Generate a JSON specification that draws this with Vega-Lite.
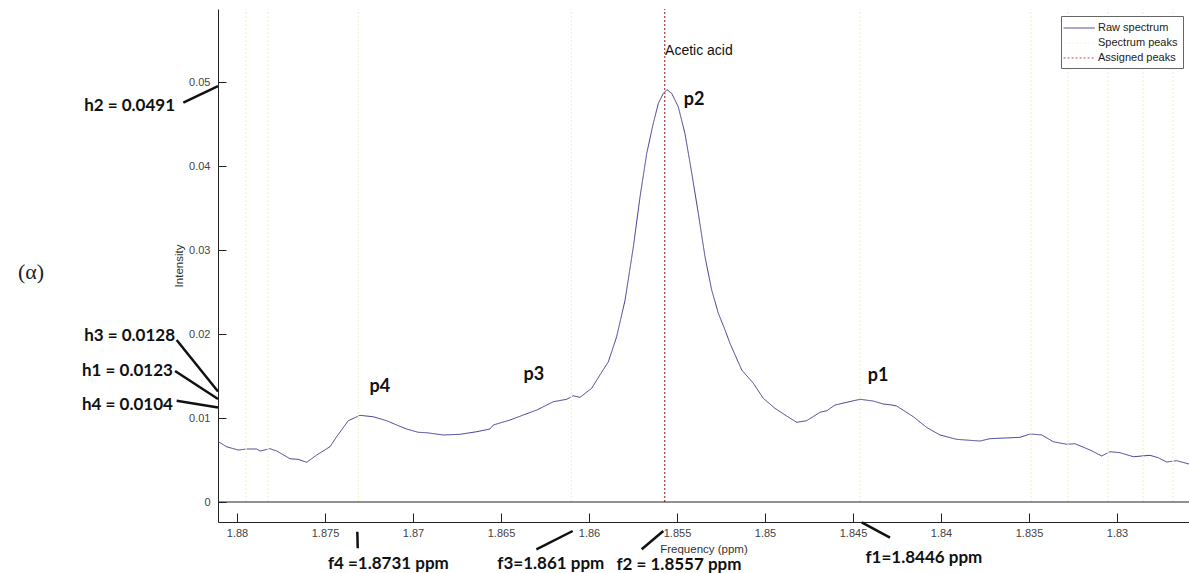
{
  "$schema": "https://vega.github.io/schema/vega-lite/v6.json",
  "autosize": "none",
  "padding": {"left": 218, "top": 9, "right": 0, "bottom": 51},
  "width": 971,
  "height": 513,
  "background": "white",
  "config": {
    "view": {"stroke": null},
    "axis": {"grid": false, "labelFont": "Liberation Sans", "titleFont": "Liberation Sans", "labelFontSize": 11, "titleFontSize": 11.5, "titleFontWeight": "normal", "labelColor": "#444444", "titleColor": "#333333", "domainColor": "#222222", "tickColor": "#222222", "labelFlush": false},
    "legend": {"title": null, "orient": "none", "legendX": 843, "legendY": 7, "symbolType": "M-1.45,0H3.35", "symbolSize": 169, "symbolStrokeWidth": 1, "labelFont": "Liberation Sans", "labelFontSize": 11, "labelColor": "#222222", "fillColor": "white", "strokeColor": "#666666", "padding": 5, "rowPadding": 3, "labelOffset": 18}
  },
  "datasets": {
    "curve": [
      {"ppm": 1.88106, "val": 0.00718, "series": "Raw spectrum"},
      {"ppm": 1.88059, "val": 0.00658, "series": "Raw spectrum"},
      {"ppm": 1.87993, "val": 0.00619, "series": "Raw spectrum"},
      {"ppm": 1.87945, "val": 0.00631, "series": "Raw spectrum"},
      {"ppm": 1.87888, "val": 0.00631, "series": "Raw spectrum"},
      {"ppm": 1.87869, "val": 0.00607, "series": "Raw spectrum"},
      {"ppm": 1.87813, "val": 0.00635, "series": "Raw spectrum"},
      {"ppm": 1.87774, "val": 0.00607, "series": "Raw spectrum"},
      {"ppm": 1.87699, "val": 0.00515, "series": "Raw spectrum"},
      {"ppm": 1.87652, "val": 0.00508, "series": "Raw spectrum"},
      {"ppm": 1.87604, "val": 0.00473, "series": "Raw spectrum"},
      {"ppm": 1.87547, "val": 0.0056, "series": "Raw spectrum"},
      {"ppm": 1.87472, "val": 0.00658, "series": "Raw spectrum"},
      {"ppm": 1.87434, "val": 0.00777, "series": "Raw spectrum"},
      {"ppm": 1.87368, "val": 0.00968, "series": "Raw spectrum"},
      {"ppm": 1.87301, "val": 0.01032, "series": "Raw spectrum"},
      {"ppm": 1.87226, "val": 0.01015, "series": "Raw spectrum"},
      {"ppm": 1.87149, "val": 0.00968, "series": "Raw spectrum"},
      {"ppm": 1.87093, "val": 0.00917, "series": "Raw spectrum"},
      {"ppm": 1.87036, "val": 0.00869, "series": "Raw spectrum"},
      {"ppm": 1.8697, "val": 0.0083, "series": "Raw spectrum"},
      {"ppm": 1.86922, "val": 0.00825, "series": "Raw spectrum"},
      {"ppm": 1.86828, "val": 0.00798, "series": "Raw spectrum"},
      {"ppm": 1.86733, "val": 0.00806, "series": "Raw spectrum"},
      {"ppm": 1.86638, "val": 0.00837, "series": "Raw spectrum"},
      {"ppm": 1.86563, "val": 0.00869, "series": "Raw spectrum"},
      {"ppm": 1.86544, "val": 0.00917, "series": "Raw spectrum"},
      {"ppm": 1.86449, "val": 0.00976, "series": "Raw spectrum"},
      {"ppm": 1.86373, "val": 0.01036, "series": "Raw spectrum"},
      {"ppm": 1.86297, "val": 0.01095, "series": "Raw spectrum"},
      {"ppm": 1.86203, "val": 0.01194, "series": "Raw spectrum"},
      {"ppm": 1.86127, "val": 0.01223, "series": "Raw spectrum"},
      {"ppm": 1.86089, "val": 0.01265, "series": "Raw spectrum"},
      {"ppm": 1.86051, "val": 0.01246, "series": "Raw spectrum"},
      {"ppm": 1.85985, "val": 0.01354, "series": "Raw spectrum"},
      {"ppm": 1.85938, "val": 0.01512, "series": "Raw spectrum"},
      {"ppm": 1.8589, "val": 0.0167, "series": "Raw spectrum"},
      {"ppm": 1.85843, "val": 0.01968, "series": "Raw spectrum"},
      {"ppm": 1.85795, "val": 0.02405, "series": "Raw spectrum"},
      {"ppm": 1.85748, "val": 0.03039, "series": "Raw spectrum"},
      {"ppm": 1.8571, "val": 0.03635, "series": "Raw spectrum"},
      {"ppm": 1.85672, "val": 0.04151, "series": "Raw spectrum"},
      {"ppm": 1.85635, "val": 0.04508, "series": "Raw spectrum"},
      {"ppm": 1.85606, "val": 0.04746, "series": "Raw spectrum"},
      {"ppm": 1.85578, "val": 0.04865, "series": "Raw spectrum"},
      {"ppm": 1.85557, "val": 0.0491, "series": "Raw spectrum"},
      {"ppm": 1.8553, "val": 0.04865, "series": "Raw spectrum"},
      {"ppm": 1.85493, "val": 0.04706, "series": "Raw spectrum"},
      {"ppm": 1.85455, "val": 0.04389, "series": "Raw spectrum"},
      {"ppm": 1.85416, "val": 0.03913, "series": "Raw spectrum"},
      {"ppm": 1.85379, "val": 0.03437, "series": "Raw spectrum"},
      {"ppm": 1.85341, "val": 0.0292, "series": "Raw spectrum"},
      {"ppm": 1.85303, "val": 0.02524, "series": "Raw spectrum"},
      {"ppm": 1.85265, "val": 0.02246, "series": "Raw spectrum"},
      {"ppm": 1.85227, "val": 0.02048, "series": "Raw spectrum"},
      {"ppm": 1.85199, "val": 0.01889, "series": "Raw spectrum"},
      {"ppm": 1.85132, "val": 0.01571, "series": "Raw spectrum"},
      {"ppm": 1.85066, "val": 0.01413, "series": "Raw spectrum"},
      {"ppm": 1.8501, "val": 0.01235, "series": "Raw spectrum"},
      {"ppm": 1.84943, "val": 0.01115, "series": "Raw spectrum"},
      {"ppm": 1.84877, "val": 0.01024, "series": "Raw spectrum"},
      {"ppm": 1.8482, "val": 0.00949, "series": "Raw spectrum"},
      {"ppm": 1.84763, "val": 0.00968, "series": "Raw spectrum"},
      {"ppm": 1.84688, "val": 0.01068, "series": "Raw spectrum"},
      {"ppm": 1.84649, "val": 0.01087, "series": "Raw spectrum"},
      {"ppm": 1.84602, "val": 0.01155, "series": "Raw spectrum"},
      {"ppm": 1.84536, "val": 0.01187, "series": "Raw spectrum"},
      {"ppm": 1.8446, "val": 0.01223, "series": "Raw spectrum"},
      {"ppm": 1.84385, "val": 0.01202, "series": "Raw spectrum"},
      {"ppm": 1.84328, "val": 0.01167, "series": "Raw spectrum"},
      {"ppm": 1.8428, "val": 0.01155, "series": "Raw spectrum"},
      {"ppm": 1.84252, "val": 0.01143, "series": "Raw spectrum"},
      {"ppm": 1.84157, "val": 0.01015, "series": "Raw spectrum"},
      {"ppm": 1.84081, "val": 0.00887, "series": "Raw spectrum"},
      {"ppm": 1.84006, "val": 0.00798, "series": "Raw spectrum"},
      {"ppm": 1.83911, "val": 0.00746, "series": "Raw spectrum"},
      {"ppm": 1.83778, "val": 0.00726, "series": "Raw spectrum"},
      {"ppm": 1.83722, "val": 0.00754, "series": "Raw spectrum"},
      {"ppm": 1.83551, "val": 0.0077, "series": "Raw spectrum"},
      {"ppm": 1.83494, "val": 0.0081, "series": "Raw spectrum"},
      {"ppm": 1.83428, "val": 0.00798, "series": "Raw spectrum"},
      {"ppm": 1.83362, "val": 0.00718, "series": "Raw spectrum"},
      {"ppm": 1.83286, "val": 0.00687, "series": "Raw spectrum"},
      {"ppm": 1.83239, "val": 0.00694, "series": "Raw spectrum"},
      {"ppm": 1.83153, "val": 0.00619, "series": "Raw spectrum"},
      {"ppm": 1.83087, "val": 0.00548, "series": "Raw spectrum"},
      {"ppm": 1.8304, "val": 0.00599, "series": "Raw spectrum"},
      {"ppm": 1.82983, "val": 0.00587, "series": "Raw spectrum"},
      {"ppm": 1.82907, "val": 0.00539, "series": "Raw spectrum"},
      {"ppm": 1.82813, "val": 0.00556, "series": "Raw spectrum"},
      {"ppm": 1.82765, "val": 0.00527, "series": "Raw spectrum"},
      {"ppm": 1.82718, "val": 0.00476, "series": "Raw spectrum"},
      {"ppm": 1.82661, "val": 0.00492, "series": "Raw spectrum"},
      {"ppm": 1.82591, "val": 0.00452, "series": "Raw spectrum"}
    ],
    "peaks": [
      {"ppm": 1.87949, "series": "Spectrum peaks"},
      {"ppm": 1.87824, "series": "Spectrum peaks"},
      {"ppm": 1.8731, "series": "Spectrum peaks"},
      {"ppm": 1.861, "series": "Spectrum peaks"},
      {"ppm": 1.8557, "series": "Spectrum peaks"},
      {"ppm": 1.8446, "series": "Spectrum peaks"},
      {"ppm": 1.83489, "series": "Spectrum peaks"},
      {"ppm": 1.83278, "series": "Spectrum peaks"},
      {"ppm": 1.83051, "series": "Spectrum peaks"},
      {"ppm": 1.82852, "series": "Spectrum peaks"},
      {"ppm": 1.82682, "series": "Spectrum peaks"},
      {"ppm": 1.8557, "series": "Assigned peaks"}
    ],
    "leaders": [
      {"id": "h2", "k": 0, "ppm": 1.88305, "val": 0.04756},
      {"id": "h2", "k": 1, "ppm": 1.88108, "val": 0.04952},
      {"id": "h3", "k": 0, "ppm": 1.88343, "val": 0.01929},
      {"id": "h3", "k": 1, "ppm": 1.88108, "val": 0.01315},
      {"id": "h1", "k": 0, "ppm": 1.88352, "val": 0.0156},
      {"id": "h1", "k": 1, "ppm": 1.88108, "val": 0.01226},
      {"id": "h4", "k": 0, "ppm": 1.88343, "val": 0.01206},
      {"id": "h4", "k": 1, "ppm": 1.88108, "val": 0.01126},
      {"id": "f4", "k": 0, "ppm": 1.873165, "val": -0.003536},
      {"id": "f4", "k": 1, "ppm": 1.87314, "val": -0.005512},
      {"id": "f3", "k": 0, "ppm": 1.862989, "val": -0.00563},
      {"id": "f3", "k": 1, "ppm": 1.860926, "val": -0.003452},
      {"id": "f2", "k": 0, "ppm": 1.857006, "val": -0.00563},
      {"id": "f2", "k": 1, "ppm": 1.855778, "val": -0.003452},
      {"id": "f1", "k": 0, "ppm": 1.844506, "val": -0.002417},
      {"id": "f1", "k": 1, "ppm": 1.842898, "val": -0.00425}
    ],
    "notes": [
      {"style": "h", "ppm": 1.88352, "val": 0.04714, "text": "h2 = 0.0491"},
      {"style": "h", "ppm": 1.88352, "val": 0.01976, "text": "h3 = 0.0128"},
      {"style": "h", "ppm": 1.88364, "val": 0.01565, "text": "h1 = 0.0123"},
      {"style": "h", "ppm": 1.88364, "val": 0.01155, "text": "h4 = 0.0104"},
      {"style": "f", "ppm": 1.8714, "val": -0.00738, "text": "f4 =1.8731 ppm"},
      {"style": "f", "ppm": 1.86217, "val": -0.00738, "text": "f3=1.861 ppm"},
      {"style": "f", "ppm": 1.85489, "val": -0.0075, "text": "f2 = 1.8557 ppm"},
      {"style": "f", "ppm": 1.84097, "val": -0.00667, "text": "f1=1.8446 ppm"},
      {"style": "p", "ppm": 1.85403, "val": 0.04786, "text": "p2"},
      {"style": "p", "ppm": 1.87188, "val": 0.01365, "text": "p4"},
      {"style": "p", "ppm": 1.86313, "val": 0.01512, "text": "p3"},
      {"style": "p", "ppm": 1.84358, "val": 0.015, "text": "p1"},
      {"style": "a", "ppm": 1.85568, "val": 0.05373, "text": "Acetic acid"},
      {"style": "g", "ppm": 1.8917, "val": 0.02738, "text": "(α)"}
    ]
  },
  "layer": [
    {
      "data": {"name": "curve"},
      "mark": {"type": "line", "strokeWidth": 1, "clip": true},
      "encoding": {
        "x": {"field": "ppm", "type": "quantitative", "scale": {"domain": [1.82591, 1.88108], "reverse": true, "nice": false, "zero": false},
          "axis": {"orient": "bottom", "values": [1.83, 1.835, 1.84, 1.845, 1.85, 1.855, 1.86, 1.865, 1.87, 1.875, 1.88], "format": "~g", "tickSize": -9, "labelPadding": 14, "title": "Frequency (ppm)", "titlePadding": 5}},
        "y": {"field": "val", "type": "quantitative", "scale": {"domain": [-0.00238, 0.0587], "nice": false, "zero": false},
          "axis": {"values": [0, 0.01, 0.02, 0.03, 0.04, 0.05], "format": "~g", "tickSize": -8, "labelPadding": 16, "title": "Intensity", "titlePadding": 4}},
        "color": {"field": "series", "type": "nominal", "scale": {"domain": ["Raw spectrum", "Spectrum peaks", "Assigned peaks"], "range": ["#3e3e90", "#f3f3cf", "#b84848"]}},
        "strokeDash": {"field": "series", "type": "nominal", "scale": {"domain": ["Raw spectrum", "Spectrum peaks", "Assigned peaks"], "range": [[1, 0], [2, 2], [2, 2]]}}
      }
    },
    {
      "data": {"name": "peaks"},
      "mark": {"type": "rule", "strokeWidth": 1.3, "clip": false},
      "encoding": {
        "x": {"field": "ppm", "type": "quantitative"},
        "y": {"datum": 0, "type": "quantitative"},
        "y2": {"datum": 0.0587},
        "color": {"field": "series", "type": "nominal"},
        "strokeDash": {"field": "series", "type": "nominal"}
      }
    },
    {
      "data": {"values": [{}]},
      "mark": {"type": "rule", "color": "#222222", "strokeWidth": 1},
      "encoding": {"y": {"datum": 0, "type": "quantitative"}}
    },
    {
      "data": {"name": "leaders"},
      "mark": {"type": "line", "color": "#111111", "strokeWidth": 2.5, "clip": false},
      "encoding": {"x": {"field": "ppm", "type": "quantitative"}, "y": {"field": "val", "type": "quantitative"}, "detail": {"field": "id"}, "order": {"field": "k"}}
    },
    {
      "data": {"name": "notes"},
      "transform": [{"filter": "datum.style === 'h'"}],
      "mark": {"type": "text", "align": "right", "baseline": "middle", "font": "Lato", "fontWeight": "bold", "fontSize": 17, "color": "#111111", "clip": false},
      "encoding": {"x": {"field": "ppm", "type": "quantitative"}, "y": {"field": "val", "type": "quantitative"}, "text": {"field": "text"}}
    },
    {
      "data": {"name": "notes"},
      "transform": [{"filter": "datum.style === 'f'"}],
      "mark": {"type": "text", "align": "center", "baseline": "middle", "font": "Lato", "fontWeight": "bold", "fontSize": 17, "color": "#111111", "clip": false},
      "encoding": {"x": {"field": "ppm", "type": "quantitative"}, "y": {"field": "val", "type": "quantitative"}, "text": {"field": "text"}}
    },
    {
      "data": {"name": "notes"},
      "transform": [{"filter": "datum.style === 'p'"}],
      "mark": {"type": "text", "align": "center", "baseline": "middle", "font": "Lato", "fontWeight": "bold", "fontSize": 18, "color": "#111111", "clip": false},
      "encoding": {"x": {"field": "ppm", "type": "quantitative"}, "y": {"field": "val", "type": "quantitative"}, "text": {"field": "text"}}
    },
    {
      "data": {"name": "notes"},
      "transform": [{"filter": "datum.style === 'a'"}],
      "mark": {"type": "text", "align": "left", "baseline": "middle", "font": "Liberation Sans", "fontSize": 14, "color": "#111111", "clip": false},
      "encoding": {"x": {"field": "ppm", "type": "quantitative"}, "y": {"field": "val", "type": "quantitative"}, "text": {"field": "text"}}
    },
    {
      "data": {"name": "notes"},
      "transform": [{"filter": "datum.style === 'g'"}],
      "mark": {"type": "text", "align": "center", "baseline": "middle", "font": "Liberation Serif", "fontSize": 22, "color": "#222222", "clip": false},
      "encoding": {"x": {"field": "ppm", "type": "quantitative"}, "y": {"field": "val", "type": "quantitative"}, "text": {"field": "text"}}
    }
  ]
}
